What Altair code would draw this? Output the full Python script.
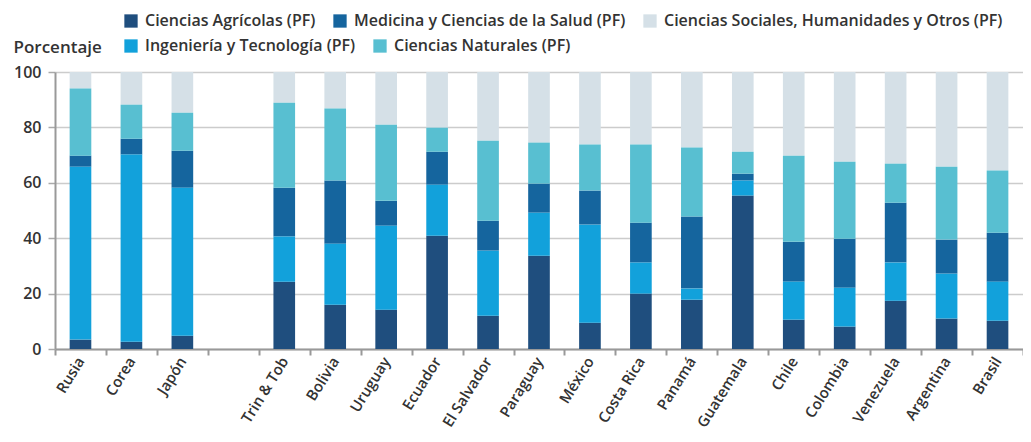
import altair as alt
import pandas as pd

paises = ["Rusia", "Corea", "Japón", " ", "Trin & Tob", "Bolivia", "Uruguay", "Ecuador",
          "El Salvador", "Paraguay", "México", "Costa Rica", "Panamá", "Guatemala",
          "Chile", "Colombia", "Venezuela", "Argentina", "Brasil"]

agricolas = [3.4, 2.6, 4.8, None, 24.3, 16.0, 14.2, 40.9, 12.0, 33.7, 9.5, 20.0, 17.8, 55.4, 10.6, 8.1, 17.4, 11.0, 10.2]
ingenieria = [62.4, 67.6, 53.4, None, 16.3, 22.0, 30.3, 18.4, 23.5, 15.5, 35.4, 11.2, 4.0, 5.4, 13.7, 14.0, 13.8, 16.2, 14.1]
medicina = [4.0, 5.7, 13.4, None, 17.6, 22.8, 9.0, 11.9, 10.8, 10.5, 12.3, 14.4, 26.0, 2.5, 14.4, 17.7, 21.6, 12.3, 17.7]
naturales = [24.2, 12.3, 13.7, None, 30.7, 26.0, 27.5, 8.7, 28.9, 14.8, 16.6, 28.2, 24.9, 7.9, 31.1, 27.8, 14.1, 26.3, 22.4]
sociales = [6.0, 11.8, 14.7, None, 11.1, 13.2, 19.0, 20.1, 24.8, 25.5, 26.2, 26.2, 27.3, 28.8, 30.2, 32.4, 33.1, 34.2, 35.6]

# (name, values, colour, legend row)
series = [
    ("Ciencias Agrícolas (PF)", agricolas, "#1f4e7e", 1),
    ("Ingeniería y Tecnología (PF)", ingenieria, "#12a1db", 2),
    ("Medicina y Ciencias de la Salud (PF)", medicina, "#15659e", 1),
    ("Ciencias Naturales (PF)", naturales, "#58bfd1", 2),
    ("Ciencias Sociales, Humanidades y Otros (PF)", sociales, "#d5e0e7", 1),
]

rows = []
for orden, (nombre, valores, _, fila) in enumerate(series):
    for pais, v in zip(paises, valores):
        if v is not None:
            rows.append({"pais": pais, "area": nombre, "valor": v, "orden": orden, "fila": fila})
df = pd.DataFrame(rows)

FONT = "Open Sans"
W = 600
TXT = "#333333"

x_enc = alt.X("pais:N", sort=None,
              scale=alt.Scale(domain=paises, paddingInner=0, paddingOuter=0),
              axis=alt.Axis(title=None, labelAngle=-58, labelAlign="right", labelBaseline="middle",
                            tickBand="extent", tickSize=6, tickColor="#999999", tickWidth=2,
                            domainColor="#999999", domainWidth=2, labelPadding=3,
                            labelFont=FONT, labelFontWeight=W, labelFontSize=15, labelColor=TXT))
y_enc = alt.Y("y0:Q", scale=alt.Scale(domain=[0, 100]),
              axis=alt.Axis(title="Porcentaje", titleAngle=0, titleAlign="left", titleBaseline="middle",
                            titleX=-42, titleY=-25, titleFont=FONT, titleFontWeight=W,
                            titleFontSize=17, titleColor=TXT,
                            values=[0, 20, 40, 60, 80, 100], tickSize=7, tickColor="#aaaaaa",
                            tickWidth=1.5,
                            gridColor="#cccccc", gridWidth=1.5, domainColor="#999999", domainWidth=2,
                            labelPadding=7, labelFont=FONT, labelFontWeight=W, labelFontSize=16,
                            labelColor=TXT))

base = alt.Chart(df).transform_stack(
    stack="valor", groupby=["pais"], as_=["y0", "y1"],
    sort=[alt.SortField("orden", order="ascending")],
)


def capa(fila, legend_y):
    sel = [s for s in series if s[3] == fila]
    return base.transform_filter(alt.datum.fila == fila).mark_bar(
        width=alt.RelativeBandSize(0.425)
    ).encode(
        x=x_enc,
        y=y_enc,
        y2="y1:Q",
        color=alt.Color("area:N",
                        scale=alt.Scale(domain=[s[0] for s in sel], range=[s[2] for s in sel]),
                        legend=alt.Legend(title=None, orient="none", legendX=68, legendY=legend_y,
                                          direction="horizontal", symbolType="square",
                                          symbolSize=177, symbolStrokeWidth=0, symbolOpacity=1,
                                          labelFont=FONT, labelFontWeight=W, labelFontSize=16,
                                          labelColor=TXT, labelOffset=6, columnPadding=16,
                                          labelLimit=450, padding=0)),
    )


chart = alt.layer(capa(1, -59), capa(2, -34)).resolve_scale(color="independent").properties(
    width=968, height=277,
    autosize=alt.AutoSizeParams(type="none"),
    padding={"left": 47, "top": 64, "right": 0, "bottom": 85},
).configure_view(stroke=None)

chart.save("out.html", embed_options={"renderer": "svg", "actions": False})
